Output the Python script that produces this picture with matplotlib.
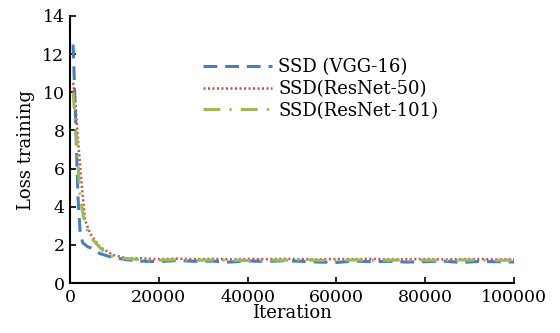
import matplotlib
matplotlib.use("Agg")
import matplotlib.pyplot as plt

plt.rcParams['font.family'] = ['DejaVu Serif']

# Data
iter_vgg = [700, 1200, 1800, 2300, 2900, 4000, 5200, 6700, 9000, 12800, 16000, 20000, 24000, 28000,
            32000, 36000, 40000, 44000, 48000, 52000, 56000, 60000, 64000, 68000, 72000, 76000,
            80000, 84000, 88000, 92000, 96000, 100000]
loss_vgg = [12.5, 9.0, 4.5, 2.6, 2.1, 1.9, 1.8, 1.55, 1.38, 1.22, 1.15, 1.12, 1.18, 1.14,
            1.15, 1.1, 1.16, 1.13, 1.17, 1.14, 1.1, 1.08, 1.15, 1.12, 1.14, 1.1,
            1.12, 1.15, 1.08, 1.13, 1.12, 1.1]

iter_r50 = [700, 1200, 1800, 2700, 3400, 4500, 6700, 9700, 12800, 16000, 20000, 24000, 28000,
            32000, 36000, 40000, 44000, 48000, 52000, 56000, 60000, 64000, 68000, 72000, 76000,
            80000, 84000, 88000, 92000, 96000, 100000]
loss_r50 = [10.5, 9.5, 7.5, 5.0, 3.3, 2.6, 1.9, 1.47, 1.3, 1.3, 1.25, 1.28, 1.25,
            1.27, 1.24, 1.26, 1.25, 1.27, 1.25, 1.24, 1.26, 1.25, 1.27, 1.24, 1.25,
            1.26, 1.24, 1.25, 1.26, 1.24, 1.25]

iter_r101 = [700, 1500, 2200, 3000, 4000, 5200, 8300, 12000, 16000, 20000, 24000, 28000,
             32000, 36000, 40000, 44000, 48000, 52000, 56000, 60000, 64000, 68000, 72000, 76000,
             80000, 84000, 88000, 92000, 96000, 100000]
loss_r101 = [10.0, 7.5, 4.7, 3.5, 2.7, 2.25, 1.47, 1.3, 1.22, 1.2, 1.22, 1.19,
             1.21, 1.2, 1.18, 1.21, 1.2, 1.22, 1.19, 1.2, 1.21, 1.19, 1.2, 1.21,
             1.2, 1.18, 1.21, 1.2, 1.19, 1.2]

labels = ['SSD (VGG-16)', 'SSD(ResNet-50)', 'SSD(ResNet-101)']
xticks = [0, 20000, 40000, 60000, 80000, 100000]
yticks = [0, 2, 4, 6, 8, 10, 12, 14]

fig = plt.figure(figsize=(5.6, 3.33), dpi=100)
ax = fig.add_axes([0.125, 0.15, 0.793, 0.802])

ax.plot(iter_vgg, loss_vgg, color='#4A7EBB', lw=2.2, dashes=(4.5, 2.6), label=labels[0])
ax.plot(iter_r50, loss_r50, color='#C0504D', lw=1.8, dashes=(0.8, 1.0), label=labels[1])
ax.plot(iter_r101, loss_r101, color='#9BBB59', lw=2.2, dashes=(5.5, 3, 0.7, 3), label=labels[2])

ax.set_xlim(0, 100000)
ax.set_ylim(0, 14)
ax.set_xticks(xticks)
ax.set_yticks(yticks)
ax.tick_params(direction='in', labelsize=12.5, length=4, width=1.2, pad=4)
for s in ['top', 'right']:
    ax.spines[s].set_visible(False)
for s in ['left', 'bottom']:
    ax.spines[s].set_linewidth(1.5)

ax.set_xlabel('Iteration', fontsize=13, labelpad=-1)
ax.set_ylabel('Loss training', fontsize=13, labelpad=5)

ax.legend(loc='upper left', bbox_to_anchor=(0.284, 0.868), frameon=False, fontsize=13,
          handlelength=3.8, labelspacing=0.2, handletextpad=0.35, borderaxespad=0)

fig.savefig('out.png', dpi=100)
